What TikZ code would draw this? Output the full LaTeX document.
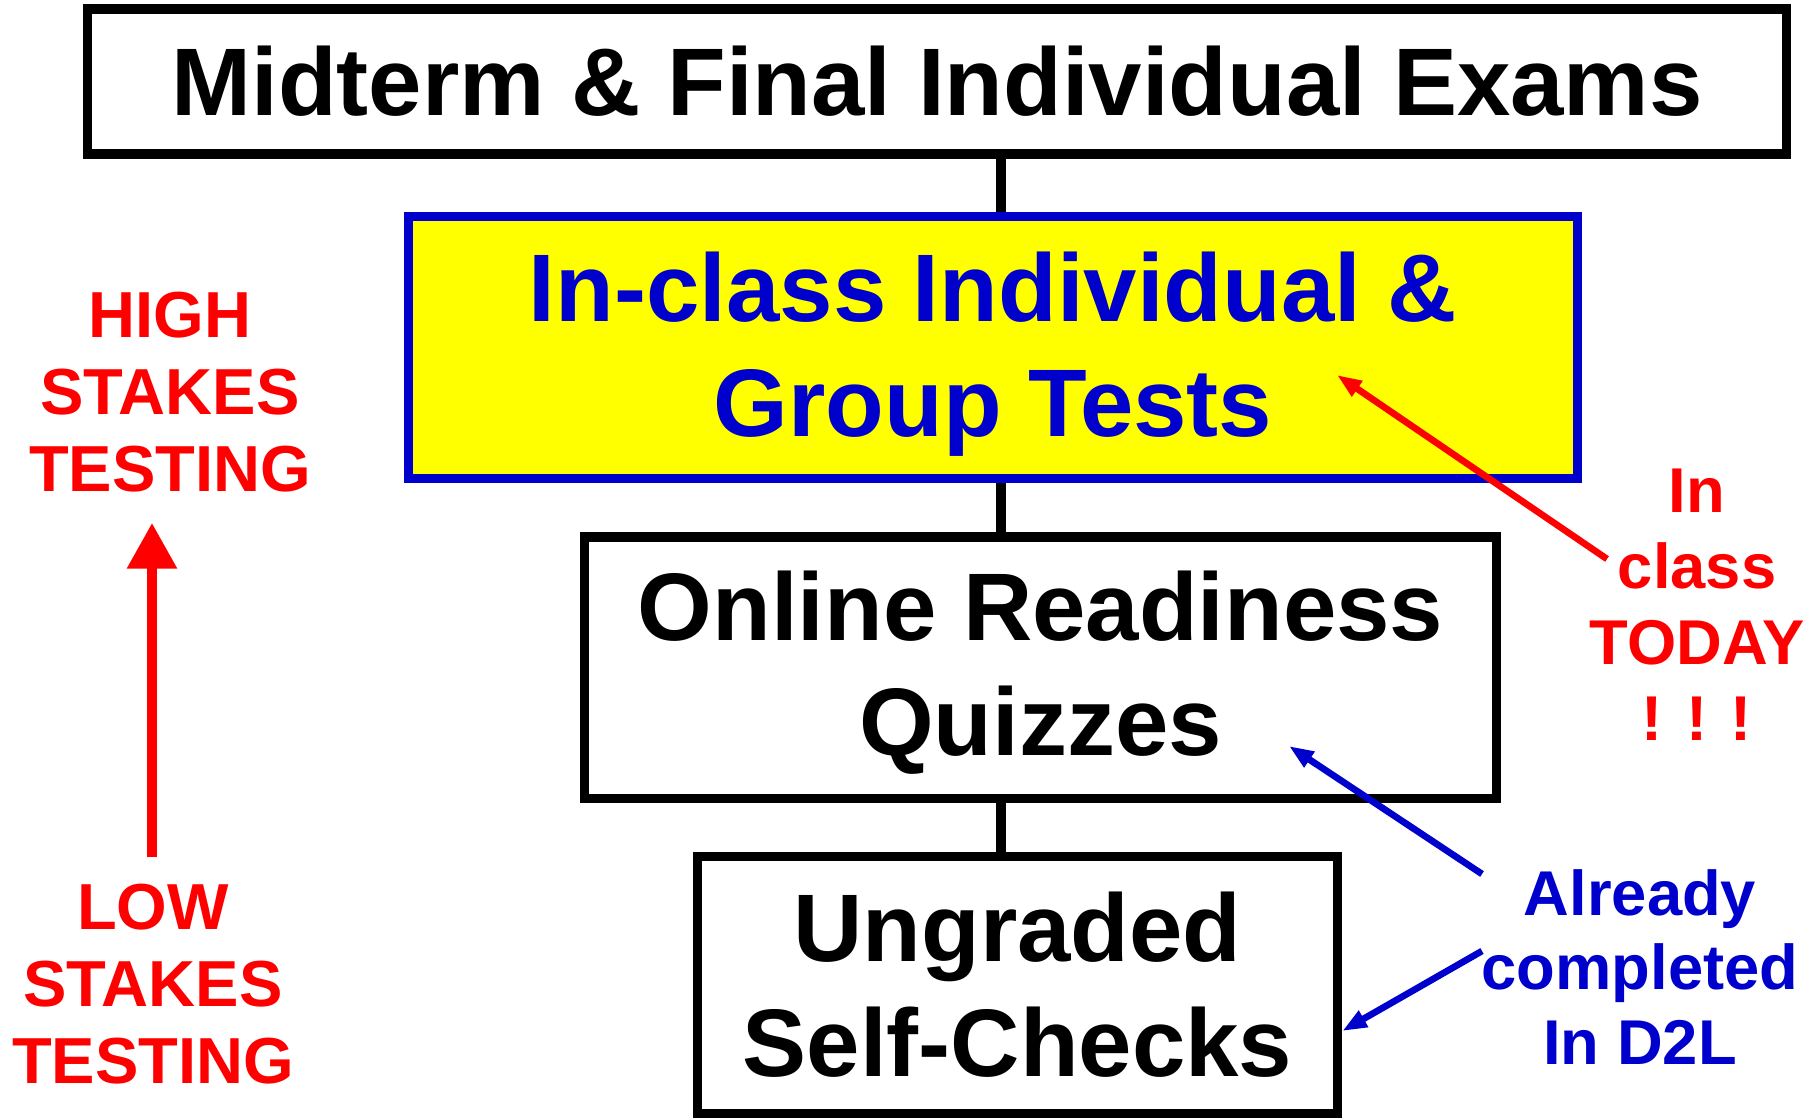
\documentclass[tikz,border=0pt]{standalone}
\usepackage{fontspec}
\setmainfont{Liberation Sans}
\usetikzlibrary{arrows.meta}
\definecolor{dblue}{RGB}{0,0,204}
\definecolor{jaune}{RGB}{255,255,0}

\begin{document}
\begin{tikzpicture}[x=0.01cm,y=-0.01cm,
  boite/.style={draw,line width=2.6pt,align=center,inner sep=0pt,font=\fontsize{27.3}{32.7}\selectfont\bfseries},
  rouge/.style={text=red,align=center,inner sep=0pt,font=\fontsize{18.5}{21.9}\selectfont\bfseries},
  bleu/.style={text=dblue,align=center,inner sep=0pt,font=\fontsize{18}{21.3}\selectfont\bfseries},
  lien/.style={line width=3.1pt},
  fleche/.style={line width=1.9pt,-{Triangle[length=7pt,width=5pt]}}]
\useasboundingbox (0,0) rectangle (1810,1118);
\coordinate (spine) at (1001,0);

\node[boite,minimum width=16.98cm,minimum height=1.45cm] (exams) at (937,81.5) {Midterm \& Final Individual Exams};
\node[boite,draw=dblue,fill=jaune,text=dblue,minimum width=11.69cm,minimum height=2.62cm] (tests) at (993,347.5) {\rule{0pt}{23.3pt}In-class Individual \&\\Group Tests};
\node[boite,minimum width=9.11cm,minimum height=2.61cm] (quiz) at (1040.5,667.5) {\rule{0pt}{22.5pt}Online Readiness\\Quizzes};
\node[boite,minimum width=6.40cm,minimum height=2.57cm] (checks) at (1017.5,985) {Ungraded\\Self-Checks};

\draw[lien] (exams.south -| spine) -- (tests.north -| spine);
\draw[lien] (tests.south -| spine) -- (quiz.north -| spine);
\draw[lien] (quiz.south -| spine) -- (checks.north -| spine);

\node[rouge] (high) at (170,392) {HIGH\\STAKES\\TESTING};
\node[rouge] (low) at (153,984) {LOW\\STAKES\\TESTING};
\coordinate (upfoot) at (152,857);
\coordinate (uptip) at (152,523);
\draw[red,line width=2.6pt,-{Triangle[length=13pt,width=13.7pt]}] (upfoot) -- (uptip);

\node[text=red,align=center,inner sep=0pt,font=\fontsize{18}{21.6}\selectfont\bfseries] (today) at (1697,605) {In\\class\\TODAY\\! ! !};
\coordinate (todayfoot) at (1607,559);
\coordinate (todaytip) at (1337,375);
\draw[fleche,red] (todayfoot) -- (todaytip);

\node[bleu] (d2l) at (1640,967) {Already\\completed\\In D2L};
\coordinate (quizfoot) at (1482,874);
\coordinate (quiztip) at (1289,746);
\coordinate (checkfoot) at (1482,951);
\draw[fleche,dblue] (quizfoot) -- (quiztip);
\draw[fleche,dblue] (checkfoot) -- (checks.east |- 0,1031);
\end{tikzpicture}
\end{document}
